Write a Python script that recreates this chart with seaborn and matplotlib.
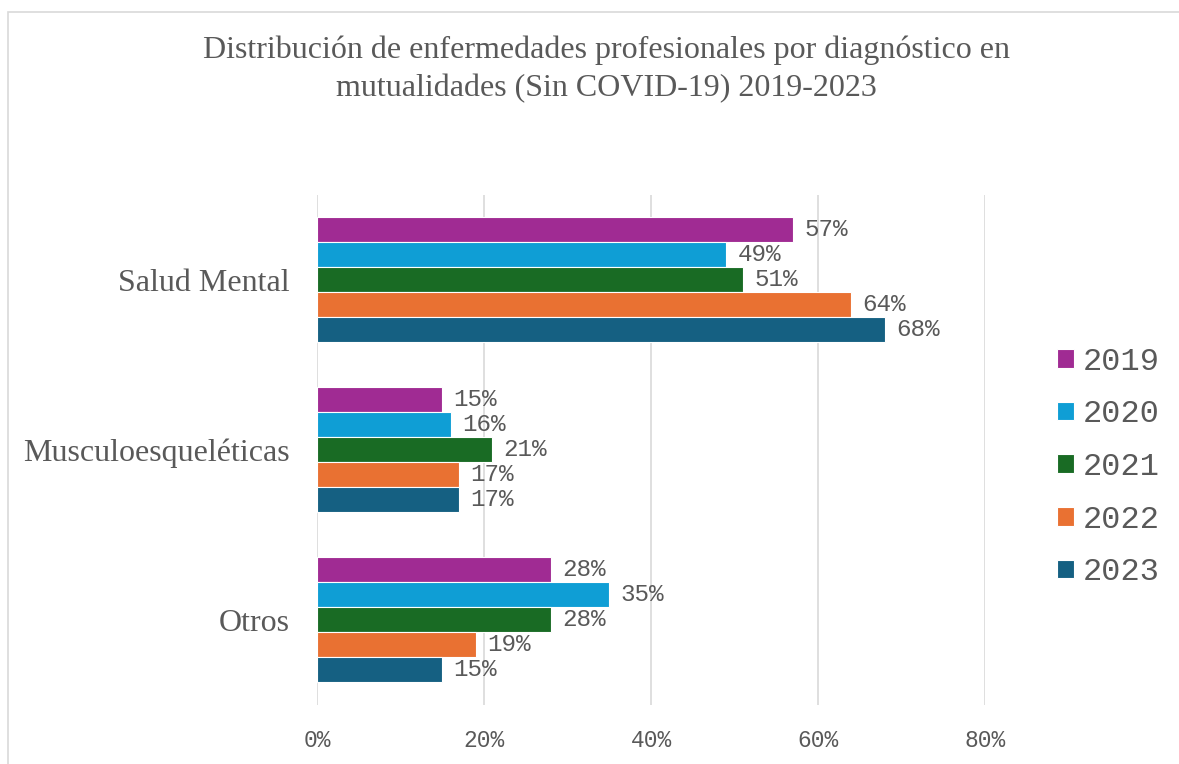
import pandas as pd
import matplotlib.pyplot as plt
import seaborn as sns
from matplotlib.patches import Rectangle
from matplotlib.ticker import FuncFormatter

# data
categories = ["Salud Mental", "Musculoesqueléticas", "Otros"]
years = ["2019", "2020", "2021", "2022", "2023"]
v2019 = [57, 15, 28]
v2020 = [49, 16, 35]
v2021 = [51, 21, 28]
v2022 = [64, 17, 19]
v2023 = [68, 17, 15]
colors = ["#A02B93", "#0F9ED5", "#196B24", "#E97132", "#156082"]

rows = []
for year, vals in zip(years, [v2019, v2020, v2021, v2022, v2023]):
    for cat, v in zip(categories, vals):
        rows.append({"Diagnóstico": cat, "Año": year, "Porcentaje": v})
df = pd.DataFrame(rows)

sns.set_theme(style="white")
grey = "#595959"
serif = "Liberation Serif"
mono = "Liberation Mono"

fig = plt.figure(figsize=(11.79, 7.64), dpi=100)
ax = fig.add_axes([0.269, 0.0772, 0.8355 - 0.269, 0.745 - 0.0772])

sns.barplot(data=df, y="Diagnóstico", x="Porcentaje", hue="Año",
            order=categories, hue_order=years, palette=colors,
            orient="h", width=0.735, edgecolor="white", linewidth=0.8,
            saturation=1, ax=ax)

for cont in ax.containers:
    ax.bar_label(cont, fmt="{:.0f}%", padding=8, fontsize=17.5,
                 family=mono, color=grey)

ax.set_xlim(0, 80)
ax.set_xticks([0, 20, 40, 60, 80])
ax.xaxis.set_major_formatter(FuncFormatter(lambda v, p: f"{v:.0f}%"))
ax.grid(axis="x", color="#d9d9d9", linewidth=1.2)
ax.grid(axis="y", visible=False)
ax.set_axisbelow(True)
for s in ax.spines.values():
    s.set_visible(False)
ax.set_xlabel("")
ax.set_ylabel("")
ax.tick_params(axis="x", length=0, pad=17, labelsize=16.5, labelcolor=grey)
ax.tick_params(axis="y", length=0, pad=20, labelsize=23, labelcolor=grey)
for t in ax.get_xticklabels():
    t.set_family(mono)
for t in ax.get_yticklabels():
    t.set_family(serif)

handles, labels = ax.get_legend_handles_labels()
ax.legend(handles, labels, loc="center left",
          bbox_to_anchor=(1057 / 1179, 1 - 467 / 764),
          bbox_transform=fig.transFigure, frameon=False,
          handlelength=0.53, handleheight=0.53, handletextpad=0.28,
          labelspacing=0.71, borderpad=0, borderaxespad=0,
          prop={"family": mono, "size": 23}, labelcolor=grey)

fig.text(0.514, 1 - 69 / 764,
         "Distribución de enfermedades profesionales por diagnóstico en\n"
         "mutualidades (Sin COVID-19) 2019-2023",
         ha="center", va="center", fontsize=23, family=serif, color=grey,
         linespacing=1.4)

fig.patches.append(Rectangle((8 / 1179, -0.05), 1.2, 1.05 - 12 / 764,
                             transform=fig.transFigure, fill=False,
                             edgecolor="#d9d9d9", linewidth=1.2))

fig.savefig("out.png", dpi=100)
